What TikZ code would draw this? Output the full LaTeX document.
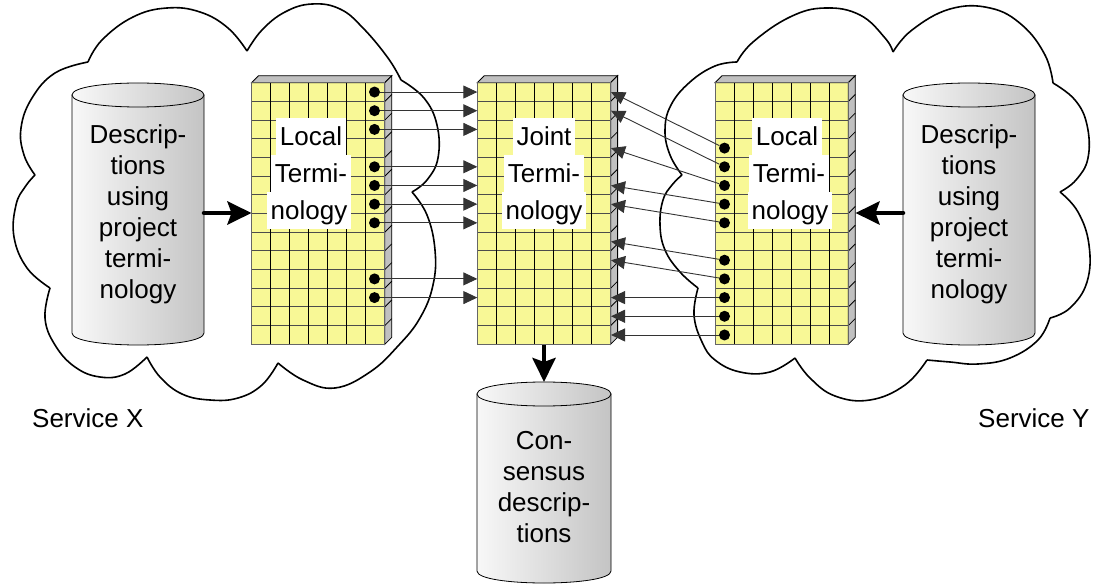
\documentclass[tikz,border=0pt]{standalone}
\usepackage{fontspec}
\setmainfont{Liberation Sans}
\usetikzlibrary{arrows.meta,calc}
\definecolor{gridyellow}{RGB}{248,248,150}
\definecolor{facegray}{RGB}{192,192,192}
\definecolor{cylL}{RGB}{248,248,248}
\definecolor{cylR}{RGB}{196,196,196}
\newcommand\lblfont{\fontsize{26}{31}\selectfont}
\def\bt{82.7}
\def\bb{344.3}
\def\rh{18.686}
\def\cw{19.043}
\newcommand\termblock[1]{%
  \pgfmathsetmacro\xa{#1}\pgfmathsetmacro\xb{#1+133.3}%
  \fill[gridyellow] (\xa,\bt) rectangle (\xb,\bb);
  \filldraw[fill=facegray, draw=black, line width=0.8pt] (\xa,\bt) -- (\xa+7,\bt-7) -- (\xb+7,\bt-7) -- (\xb,\bt) -- cycle;
  \filldraw[fill=facegray, draw=black, line width=0.8pt] (\xb,\bt) -- (\xb+7,\bt-7) -- (\xb+7,\bb-7) -- (\xb,\bb) -- cycle;
  \foreach \i in {1,...,13} {\draw[line width=0.8pt] (\xb,\bt+\i*\rh) -- ++(7,-7);}
  \foreach \i in {1,...,13} {\draw[rowline] (\xa,\bt+\i*\rh) -- (\xb,\bt+\i*\rh);}
  \foreach \j in {1,...,6} {\draw[colline] (\xa+\j*\cw,\bt) -- (\xa+\j*\cw,\bb);}
  \draw[line width=0.9pt, draw=black!60] (\xa,\bt) rectangle (\xb,\bb);
}
\newcommand\cylshape[4]{%
  \path[cyl] (#1,#3) -- (#1,#4) .. controls (#1,#4+16) and (#2,#4+16) .. (#2,#4) -- (#2,#3) -- cycle;
  \path[cyl] (#1,#3) .. controls (#1,#3-16) and (#2,#3-16) .. (#2,#3) .. controls (#2,#3+16) and (#1,#3+16) .. (#1,#3) -- cycle;
}
\tikzset{
  cloud/.style={draw=black, line width=1.6pt, line join=round},
  rowline/.style={draw=black!70, line width=0.9pt},
  colline/.style={draw=black, line width=0.9pt},
  cyl/.style={draw=black, line width=0.8pt, left color=cylL, right color=cylR},
  cyltext/.style={align=center, inner sep=0pt, font=\lblfont, anchor=north},
  blabel/.style={fill=white, inner xsep=4pt, inner ysep=0pt, text height=27.5pt, text depth=9.5pt, anchor=base, font=\lblfont},
  dot/.style={circle, fill=black, inner sep=0pt, minimum size=11pt},
  tarrow/.style={draw=black!80, line width=0.9pt, -{Triangle[length=14pt,width=13pt]}},
  tharrow/.style={draw=black, line width=4.5pt, line cap=round, -{Stealth[length=24pt,width=23pt,inset=4pt]}},
  svc/.style={font=\lblfont, inner sep=0pt, anchor=base west}
}
\begin{document}
\begin{tikzpicture}[x=1pt,y=-1pt]
\useasboundingbox (0,0) rectangle (1094,585);
% left cloud
\draw[cloud] plot[smooth, tension=0.7] coordinates {(88,62) (102,40) (133,17) (167,8) (200,12) (228,28) (247,51)};
\draw[cloud] plot[smooth, tension=0.7] coordinates {(247,51) (262,30) (285,12) (312,4) (340,9) (363,28) (388,58) (401,80)};
\draw[cloud] plot[smooth, tension=0.7] coordinates {(401,80) (424,98) (437,125) (438,158) (427,180) (412,192)};
\draw[cloud] plot[smooth, tension=0.7] coordinates {(412,192) (427,215) (435,250) (433,285) (420,318) (398,346) (370,372) (335,388) (303,380) (278,363)};
\draw[cloud] plot[smooth, tension=0.7] coordinates {(278,363) (262,385) (238,398) (210,400) (182,394) (160,377) (147,357)};
\draw[cloud] plot[smooth, tension=0.7] coordinates {(147,357) (125,374) (100,377) (75,367) (55,345) (45,318) (50,288)};
\draw[cloud] plot[smooth, tension=0.7] coordinates {(50,288) (27,268) (14,237) (16,205) (25,187) (35,175)};
\draw[cloud] plot[smooth, tension=0.7] coordinates {(35,175) (24,155) (21,128) (32,98) (55,73) (88,62)};
% right cloud
\draw[cloud] plot[smooth, tension=0.7] coordinates {(737,62) (753,42) (790,17) (825,8) (860,15) (885,38) (893,52)};
\draw[cloud] plot[smooth, tension=0.7] coordinates {(893,52) (912,30) (950,9) (990,8) (1022,25) (1045,55) (1053,83)};
\draw[cloud] plot[smooth, tension=0.7] coordinates {(1053,83) (1075,100) (1087,125) (1088,158) (1076,180) (1060,192)};
\draw[cloud] plot[smooth, tension=0.7] coordinates {(1060,192) (1078,212) (1089,245) (1087,282) (1070,308) (1050,318)};
\draw[cloud] plot[smooth, tension=0.7] coordinates {(1050,318) (1038,340) (1010,358) (978,364) (950,362) (927,360)};
\draw[cloud] plot[smooth, tension=0.7] coordinates {(927,360) (905,385) (870,400) (835,396) (810,378) (795,358)};
\draw[cloud] plot[smooth, tension=0.7] coordinates {(795,358) (770,372) (740,372) (715,360) (702,342) (694,315) (698,288)};
\draw[cloud] plot[smooth, tension=0.7] coordinates {(698,288) (680,272) (665,250) (660,225) (663,200) (672,185) (682,175)};
\draw[cloud] plot[smooth, tension=0.7] coordinates {(682,175) (670,155) (665,130) (671,105) (690,82) (715,66) (737,62)};
% cylinders
\cylshape{72}{204}{95}{333}
\cylshape{903}{1035}{95}{333}
\cylshape{477}{611}{394}{571}
\node[cyltext] (dX) at (138,124) {Descrip-\\tions\\using\\project\\termi-\\nology};
\node[cyltext] (dY) at (969,124) {Descrip-\\tions\\using\\project\\termi-\\nology};
\node[cyltext] (cons) at (544,431) {Con-\\sensus\\descrip-\\tions};
% blocks
\termblock{251.5}
\termblock{477.3}
\termblock{715}
% block labels
\node[blabel] (l1) at (311,145.5) {Local};
\node[blabel] (l2) at (311,182.5) {Termi-};
\node[blabel] (l3) at (309,219.5) {nology};
\node[blabel] (j1) at (544,145.5) {Joint};
\node[blabel] (j2) at (544,182.5) {Termi-};
\node[blabel] (j3) at (544,219.5) {nology};
\node[blabel] (r1) at (787,145.5) {Local};
\node[blabel] (r2) at (789,182.5) {Termi-};
\node[blabel] (r3) at (790,219.5) {nology};
% thin arrows left
\foreach \r in {1,2,3,5,6,7,8,11,12} {
  \node[dot] (cL\r) at (374.5,{\bt+(\r-0.5)*\rh}) {};
  \coordinate (mL\r) at (477.3,{\bt+(\r-0.5)*\rh});
  \draw[tarrow] (cL\r) -- (mL\r);
}
% thin arrows right
\foreach \s/\t in {4/1,5/2,6/4,7/6,8/7,10/9,11/10,12/12,13/13,14/14} {
  \node[dot] (cR\s) at (724.5,{\bt+(\s-0.5)*\rh}) {};
  \coordinate (mR\t) at (611,{\bt+(\t-0.5)*\rh});
  \draw[tarrow] (cR\s) -- (mR\t);
}
% thick arrows
\coordinate (dXe) at (204,213);
\coordinate (LW) at (251.5,213);
\coordinate (dYw) at (903,213);
\coordinate (RE) at (855.5,213);
\coordinate (MS) at (544,345);
\coordinate (consN) at (544,382);
\draw[tharrow] (dXe) -- (LW);
\draw[tharrow] (dYw) -- (RE);
\draw[tharrow, line cap=butt] (MS) -- (consN);
% service labels
\node[svc] (sx) at (32,427) {Service X};
\node[svc] (sy) at (978,427) {Service Y};
\end{tikzpicture}
\end{document}
